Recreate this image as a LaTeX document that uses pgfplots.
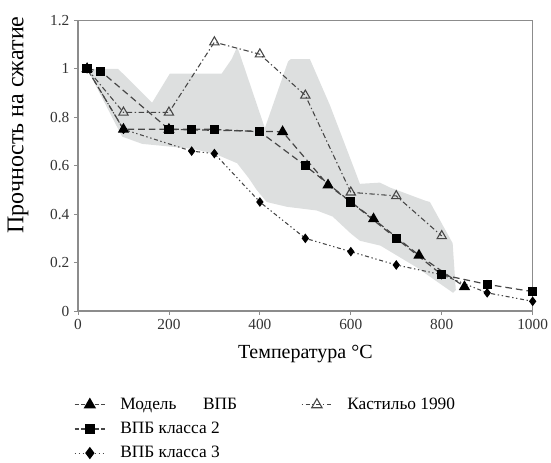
\documentclass[border=0pt]{standalone}
\usepackage{fontspec}
\setmainfont{Liberation Serif}
\usepackage{pgfplots}
\pgfplotsset{compat=1.18}
\definecolor{band}{RGB}{221,223,223}
\definecolor{ln}{RGB}{70,70,70}
\definecolor{ax}{RGB}{140,140,140}
\begin{document}
\begin{tikzpicture}
\begin{axis}[
  at={(0,0)}, anchor=south west,
  scale only axis, width=341pt, height=218pt,
  xmin=0, xmax=1000, ymin=0, ymax=1.2,
  xtick={0,200,...,1000}, ytick={0,0.2,...,1.2},
  yticklabels={0,0.2,0.4,0.6,0.8,1,1.2},
  xticklabels={0,200,400,600,800,1000},
  tick align=outside, tick pos=left,
  major tick length=3pt,
  axis line style={ax, line width=0.8pt},
  every tick/.style={ax, line width=0.6pt},
  /pgf/number format/assume math mode=true,
  /pgf/number format/1000 sep={},
  tick label style={font=\fontsize{11.5}{13}\selectfont, text=black!80},
  xlabel={Температура °C},
  ylabel={Прочность на сжатие},
  xlabel style={at={(axis description cs:0.5,-0.148)}, anchor=center, font=\fontsize{15}{17}\selectfont},
  ylabel style={at={(axis description cs:-0.132,0.64)}, anchor=center, font=\fontsize{18}{20}\selectfont},
  legend style={draw=none, fill=none, at={(axis description cs:-0.018,-0.28)}, anchor=north west,
    font=\fontsize{13}{15}\selectfont, row sep=4pt,
    /tikz/every odd column/.style={column sep=9pt},
    /tikz/column 2/.style={column sep=46pt}},
  legend cell align=left,
  legend columns=2,
  legend image code/.code={\draw[#1, mark repeat=2, mark phase=2] plot coordinates {(0cm,0cm) (0.4cm,0cm) (0.8cm,0cm)};},
]
% gray band
\addplot[fill=band, draw=none, forget plot] coordinates {
(20,1.0) (88,1.0) (163,0.86) (202,0.98) (316,0.98) (338,1.04) (350,1.09) (356,1.06)
(411,0.755) (462,1.03) (468,1.04) (510,1.04) (554,0.85) (609,0.58) (620,0.525)
(664,0.53) (686,0.51) (763,0.456) (774,0.45) (824,0.28) (831,0.086)
(825,0.075) (745,0.18) (665,0.27) (620,0.29) (600,0.32) (560,0.39) (525,0.415)
(460,0.43) (415,0.45) (393,0.50) (375,0.55) (350,0.61) (300,0.65) (250,0.67)
(141,0.69) (97,0.72) (20,1.0)
} -- cycle;
% class 3
\addplot[ln, line width=0.8pt, dash pattern=on 3pt off 2pt on 1pt off 2pt on 1pt off 2pt, forget plot,
  mark=diamond*, mark size=3pt, mark options={solid, fill=black, draw=black}] coordinates {
(20,1.0) (100,0.75) (250,0.66) (300,0.65) (400,0.45) (500,0.30) (600,0.245) (700,0.19) (800,0.15) (900,0.075) (1000,0.04)};
% Castillo
\addplot[ln, line width=0.8pt, dash pattern=on 4pt off 2pt on 1pt off 2pt, forget plot,
  mark=triangle, mark size=4pt, mark options={solid, draw=ln, fill=white}] coordinates {
(20,1.0) (100,0.82) (200,0.82) (300,1.11) (400,1.06) (500,0.89) (600,0.49) (700,0.475) (800,0.31)};
% class 2
\addplot[ln, line width=0.9pt, dash pattern=on 5pt off 3pt, forget plot,
  mark=square*, mark size=3pt, mark options={solid, fill=black, draw=black}] coordinates {
(20,1.0) (50,0.99) (200,0.75) (250,0.75) (300,0.75) (400,0.74) (500,0.60) (600,0.45) (700,0.30) (800,0.15) (900,0.11) (1000,0.08)};
% model
\addplot[ln, line width=0.9pt, dash pattern=on 5pt off 3pt, forget plot,
  mark=triangle*, mark size=4pt, mark options={solid, fill=black, draw=black}] coordinates {
(20,1.0) (100,0.75) (200,0.75) (450,0.74) (550,0.52) (650,0.38) (750,0.23) (850,0.10)};
% legend
\addlegendimage{ln, line width=0.9pt, dash pattern=on 3pt off 2pt, mark=triangle*, mark size=4.5pt, mark options={solid, fill=black, draw=black}}
\addlegendentry{Модель\hspace{20pt}ВПБ}
\addlegendimage{ln, line width=0.8pt, dash pattern=on 1pt off 2pt on 3pt off 2pt, mark=triangle, mark size=4.5pt, mark options={solid, draw=ln, fill=white}}
\addlegendentry{Кастильо 1990}
\addlegendimage{ln, line width=0.9pt, dash pattern=on 3pt off 2pt, mark=square*, mark size=3.5pt, mark options={solid, fill=black, draw=black}}
\addlegendentry{ВПБ класса 2}
\addlegendimage{empty legend}
\addlegendentry{}
\addlegendimage{ln, line width=0.8pt, dash pattern=on 1pt off 2pt, mark=diamond*, mark size=4pt, mark options={solid, fill=black, draw=black}}
\addlegendentry{ВПБ класса 3}
\end{axis}
\pgfresetboundingbox
\path[use as bounding box] (-58.5pt,-113.25pt) rectangle (354.75pt,233.25pt);
\end{tikzpicture}
\end{document}
